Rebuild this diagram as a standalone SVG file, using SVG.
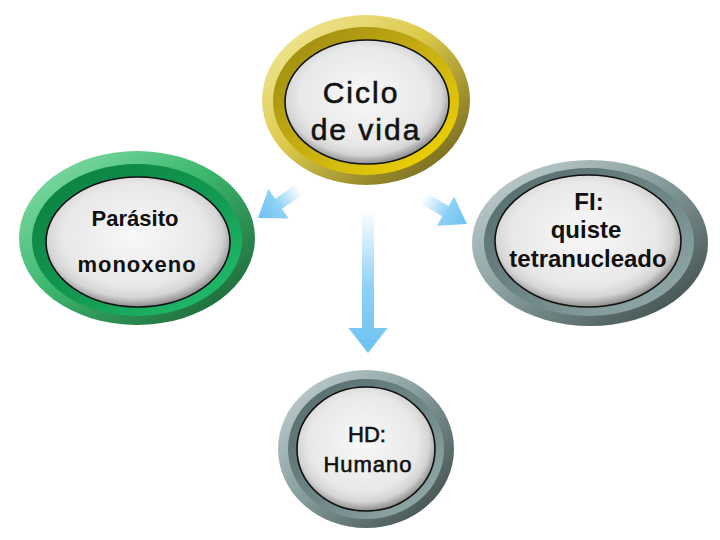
<svg xmlns="http://www.w3.org/2000/svg" width="720" height="540" viewBox="0 0 720 540">
<defs>
<linearGradient id="yOut" x1="0" y1="0" x2="1" y2="1"><stop offset="0" stop-color="#F6EDA8"/><stop offset="0.45" stop-color="#DCC94A"/><stop offset="1" stop-color="#5E5412"/></linearGradient>
<linearGradient id="yBand" x1="0" y1="0" x2="1" y2="1"><stop offset="0" stop-color="#968612"/><stop offset="0.55" stop-color="#CDB410"/><stop offset="1" stop-color="#F6D800"/></linearGradient>
<linearGradient id="gOut" x1="0" y1="0" x2="1" y2="1"><stop offset="0" stop-color="#8FE2B2"/><stop offset="0.45" stop-color="#3DB86E"/><stop offset="1" stop-color="#17582F"/></linearGradient>
<linearGradient id="gBand" x1="0" y1="0" x2="1" y2="1"><stop offset="0" stop-color="#0B7D40"/><stop offset="0.55" stop-color="#129A52"/><stop offset="1" stop-color="#26C472"/></linearGradient>
<linearGradient id="sOut" x1="0" y1="0" x2="1" y2="1"><stop offset="0" stop-color="#CAD6D6"/><stop offset="0.45" stop-color="#8AA0A0"/><stop offset="1" stop-color="#33403F"/></linearGradient>
<linearGradient id="sBand" x1="0" y1="0" x2="1" y2="1"><stop offset="0" stop-color="#546A6A"/><stop offset="0.55" stop-color="#708888"/><stop offset="1" stop-color="#9CB2B2"/></linearGradient>
<radialGradient id="core" cx="0.48" cy="0.45" r="0.55"><stop offset="0" stop-color="#F8F8F8"/><stop offset="0.72" stop-color="#E8E8E8"/><stop offset="0.87" stop-color="#D4D4D4"/><stop offset="0.95" stop-color="#A8A8A8"/><stop offset="1" stop-color="#8C8C8C"/></radialGradient>
<linearGradient id="arr" x1="0" y1="0" x2="1" y2="0"><stop offset="0" stop-color="#FFFFFF"/><stop offset="0.55" stop-color="#8CD0F6"/><stop offset="1" stop-color="#6CC2F2"/></linearGradient>
</defs>
<style>
.core{fill:url(#core);stroke:#111;stroke-width:1.6}
.t{font-family:"Liberation Sans",Arial,sans-serif;fill:#111;text-anchor:middle}
.m{stroke:#111;stroke-width:0.6}
.arrow{fill:url(#arr)}
</style>
<g id="connectors">
<path class="arrow" d="M0,-6 L118,-6 L118,-19.5 L143,0 L118,19.5 L118,6 L0,6 Z" transform="translate(368,210) rotate(90)"/>
<path class="arrow" d="M0,-6 L26,-6 L26,-18 L51,0 L26,18 L26,6 L0,6 Z" transform="translate(300,189) rotate(145.4)"/>
<path class="arrow" d="M0,-6 L26,-6 L26,-17 L51,0 L26,17 L26,6 L0,6 Z" transform="translate(423,198) rotate(30.5)"/>
</g>
<g id="node-ciclo">
<ellipse cx="366" cy="100" rx="104" ry="85" fill="url(#yOut)"/>
<ellipse cx="366" cy="101" rx="93" ry="74" fill="url(#yBand)"/>
<ellipse class="core" cx="367" cy="102" rx="82" ry="62"/>
<text class="t m" x="361" y="103" font-size="30" letter-spacing="2">Ciclo</text>
<text class="t m" x="366" y="140" font-size="30" letter-spacing="2">de vida</text>
</g>
<g id="node-parasito">
<ellipse cx="137" cy="238" rx="118" ry="87" fill="url(#gOut)"/>
<ellipse cx="137" cy="240" rx="105" ry="76" fill="url(#gBand)"/>
<ellipse class="core" cx="138" cy="242" rx="92" ry="65"/>
<text class="t" x="135" y="226" font-size="22" font-weight="bold">Parásito</text>
<text class="t" x="137" y="272" font-size="22" font-weight="bold" letter-spacing="1">monoxeno</text>
</g>
<g id="node-fi">
<ellipse cx="590" cy="243" rx="118" ry="83" fill="url(#sOut)"/>
<ellipse cx="589" cy="242" rx="105" ry="74" fill="url(#sBand)"/>
<ellipse class="core" cx="588" cy="241" rx="93" ry="66"/>
<text class="t" x="589" y="210" font-size="24" font-weight="bold">FI:</text>
<text class="t" x="586" y="238" font-size="24" font-weight="bold">quiste</text>
<text class="t" x="588" y="267" font-size="24" font-weight="bold">tetranucleado</text>
</g>
<g id="node-hd">
<ellipse cx="366" cy="449" rx="88" ry="79" fill="url(#sOut)"/>
<ellipse cx="366" cy="449" rx="78" ry="70" fill="url(#sBand)"/>
<ellipse class="core" cx="366" cy="449" rx="69" ry="62"/>
<text class="t m" x="367" y="442" font-size="22">HD:</text>
<text class="t m" x="368" y="472" font-size="22" letter-spacing="1">Humano</text>
</g>
</svg>
